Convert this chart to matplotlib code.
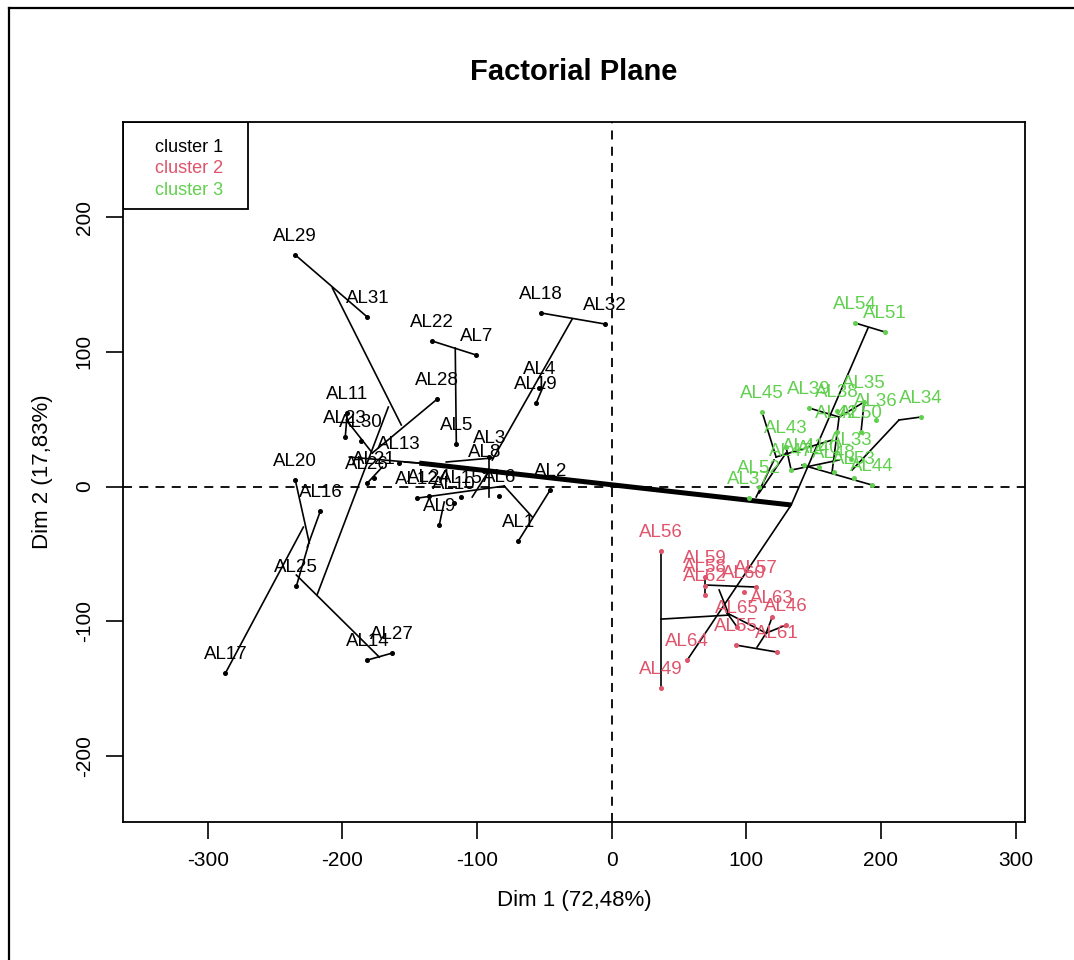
import matplotlib
matplotlib.use("Agg")
import matplotlib.pyplot as plt
from matplotlib.lines import Line2D
from matplotlib.patches import Rectangle

plt.rcParams['font.family'] = ['Liberation Sans', 'DejaVu Sans']
plt.rcParams['axes.unicode_minus'] = False

# individuals on the factorial plane (Dim 1, Dim 2) and their cluster
labels = ['AL1', 'AL2', 'AL3', 'AL4', 'AL5', 'AL6', 'AL7', 'AL8', 'AL9', 'AL10',
          'AL11', 'AL12', 'AL13', 'AL14', 'AL15', 'AL16', 'AL17', 'AL18', 'AL19', 'AL20',
          'AL21', 'AL22', 'AL23', 'AL24', 'AL25', 'AL26', 'AL27', 'AL28', 'AL29', 'AL30',
          'AL31', 'AL32',
          'AL46', 'AL49', 'AL55', 'AL56', 'AL57', 'AL58', 'AL59', 'AL60', 'AL61', 'AL62',
          'AL63', 'AL64', 'AL65',
          'AL54', 'AL51', 'AL45', 'AL39', 'AL38', 'AL35', 'AL36', 'AL34', 'AL42', 'AL50',
          'AL43', 'AL33', 'AL44', 'AL53', 'AL52', 'AL37', 'AL47', 'AL41', 'AL40', 'AL48']
dim1 = [-69.4, -45.7, -90.9, -53.8, -115.4, -83.5, -100.6, -94.7, -128.1, -116.9,
        -196.4, -144.4, -157.8, -181.5, -111.7, -216.4, -286.9, -52.3, -56.1, -235.0,
        -176.3, -133.3, -197.9, -135.5, -234.2, -181.5, -163.0, -129.5, -235.0, -186.0,
        -181.5, -4.8,
        129.5, 36.7, 92.4, 36.7, 107.3, 69.4, 69.4, 98.4, 122.9, 69.4,
        119.2, 56.1, 93.2,
        180.8, 203.0, 111.7, 146.6, 167.4, 187.5, 196.4, 229.8, 167.4, 185.2,
        129.5, 177.8, 193.4, 180.0, 109.5, 102.1, 133.3, 142.9, 154.0, 165.2]
dim2 = [-40.5, -2.6, 21.9, 73.1, 31.6, -7.1, 97.6, 11.5, -28.6, -12.2,
        54.6, -8.5, 17.4, -128.8, -7.8, -18.2, -138.5, 128.8, 62.0, 4.8,
        6.3, 108.0, 36.7, -7.1, -73.9, 2.6, -123.6, 65.0, 171.9, 33.8,
        125.8, 120.6,
        -102.8, -149.6, -117.7, -47.9, -74.6, -73.9, -67.2, -78.3, -122.9, -80.6,
        -96.9, -128.8, -104.3,
        121.4, 114.7, 55.3, 58.3, 56.1, 62.7, 49.4, 51.6, 40.5, 40.5,
        29.3, 20.4, 1.1, 6.3, -0.4, -8.5, 12.2, 16.0, 14.5, 10.8]
cluster = [1] * 32 + [2] * 13 + [3] * 20

# hierarchical tree drawn on the plane: x0, y0, x1, y1
tree_x0 = [-235.0, -207.5, -177.8, -133.3, -116.2, -52.3, -29.3, -56.1, -196.4, -197.1,
           -165.9, -235.0, -216.4, -229.0, -234.2, -234.2, -181.5, -194.9, -122.9, -181.5,
           -143.7, -124.4, -79.8, -69.4, -90.9, -103.6, -154.0,
           133.3, 180.8, 111.7, 107.3, 109.5, 122.1, 146.6, 168.9, 187.5, 168.9,
           229.8, 213.4, 141.4, 129.5, 133.3,
           56.1, 36.7, 36.7, 69.4, 69.4, 79.8, 85.7, 114.7, 114.7, 92.4, 108.0, 93.2]
tree_y0 = [171.9, 147.4, 24.9, 108.0, 102.8, 128.8, 124.4, 62.0, 54.6, 49.4,
           59.0, 4.8, -18.2, -30.1, -73.9, -65.7, -128.8, 21.9, 18.2, 2.6,
           -8.5, -11.5, 0.4, -40.5, 21.9, -7.8, 18.2,
           -13.7, 121.4, 55.3, -7.8, -4.8, 21.9, 58.3, 51.6, 62.7, 51.6,
           51.6, 49.4, 16.0, 29.3, 12.2,
           -128.8, -47.9, -98.4, -67.2, -73.1, -76.8, -93.9, -108.8, -108.8, -117.7, -119.2, -104.3]
tree_x1 = [-181.5, -156.3, -129.5, -100.6, -115.4, -4.8, -88.7, -49.4, -197.9, -177.8,
           -218.6, -224.6, -226.1, -286.9, -225.3, -172.6, -163.0, -142.9, -88.7, -170.4,
           -79.8, -128.1, -59.0, -45.7, -90.9, -90.9, -142.9,
           190.4, 203.0, 122.1, 120.6, 129.5, 163.7, 168.9, 187.5, 185.2, 163.7,
           213.4, 178.5, 193.4, 133.3, 168.9,
           133.3, 36.7, 87.2, 69.4, 107.3, 87.2, 114.7, 119.2, 129.5, 122.9, 114.7, 85.7]
tree_y1 = [125.8, 45.7, 65.0, 97.6, 31.6, 120.6, 19.7, 77.6, 36.7, 24.9,
           -79.8, -41.9, -44.9, -138.5, -43.4, -126.6, -123.6, 17.4, 21.2, 14.5,
           0.4, -28.6, -22.6, -2.6, -7.8, 12.2, 17.4,
           117.7, 114.7, 21.9, 19.7, 24.9, 34.5, 51.6, 62.7, 40.5, 10.8,
           49.4, 12.2, 1.1, 12.2, 19.7,
           -13.7, -149.6, -95.4, -80.6, -74.6, -95.4, -108.8, -96.9, -102.8, -122.9, -108.8, -93.9]

# top link between cluster 1 and clusters 2/3
trunk_x = [-142.9, 133.3]
trunk_y = [17.4, -13.7]

cluster_names = ['cluster 1', 'cluster 2', 'cluster 3']
cluster_colors = {1: 'black', 2: '#DF536B', 3: '#61D04F'}

fig = plt.figure(figsize=(10.74, 9.6), dpi=100)
ax = fig.add_axes([0.1145, 0.14375, 0.8399, 0.7292])

# tree
for x0, y0, x1, y1 in zip(tree_x0, tree_y0, tree_x1, tree_y1):
    ax.plot([x0, x1], [y0, y1], color='black', lw=1.2, zorder=2)
ax.plot(trunk_x, trunk_y, color='black', lw=3.6, solid_capstyle='butt', zorder=2)

# reference axes
ax.axhline(0, color='black', lw=1.3, ls=(0, (5, 4)), zorder=1)
ax.axvline(0, color='black', lw=1.3, ls=(0, (5, 4)), zorder=1)

# individuals + labels
for lab, x, y, c in zip(labels, dim1, dim2, cluster):
    col = cluster_colors[c]
    ax.plot(x, y, 'o', ms=2.6, color=col, zorder=3)
    ax.annotate(lab, (x, y), xytext=(0, 13.5), textcoords='offset points',
                ha='center', va='center', fontsize=13.5, color=col, zorder=4)

ax.set_xlim(-363, 307)
ax.set_ylim(-249, 270.6)
ax.set_xticks([-300, -200, -100, 0, 100, 200, 300])
ax.set_yticks([-200, -100, 0, 100, 200])
ax.tick_params(direction='out', length=12, width=1.2, labelsize=15, pad=9)
ax.tick_params(axis='y', labelrotation=90)
for t in ax.get_yticklabels():
    t.set_va('center')
for s in ax.spines.values():
    s.set_linewidth(1.3)

ax.set_xlabel('Dim 1 (72,48%)', fontsize=16, labelpad=14)
ax.set_ylabel('Dim 2 (17,83%)', fontsize=16, labelpad=16)
ax.set_title('Factorial Plane', fontsize=21, fontweight='bold', pad=30)

# legend box (text only)
ax.add_patch(Rectangle((0, 1 - 0.1243), 0.1386, 0.1243, transform=ax.transAxes,
                       fill=False, lw=1.3, edgecolor='black', zorder=5))
for i, name in enumerate(cluster_names):
    ax.text(0.0355, 0.9637 - i * 0.0307, name, transform=ax.transAxes,
            fontsize=13, color=cluster_colors[i + 1], va='center', ha='left')

# outer frame of the screenshot
fig.add_artist(Line2D([9 / 1074, 9 / 1074], [0, 1 - 8 / 960], color='black', lw=1.6))
fig.add_artist(Line2D([9 / 1074, 1], [1 - 8 / 960, 1 - 8 / 960], color='black', lw=1.6))

fig.savefig('out.png', dpi=100)
